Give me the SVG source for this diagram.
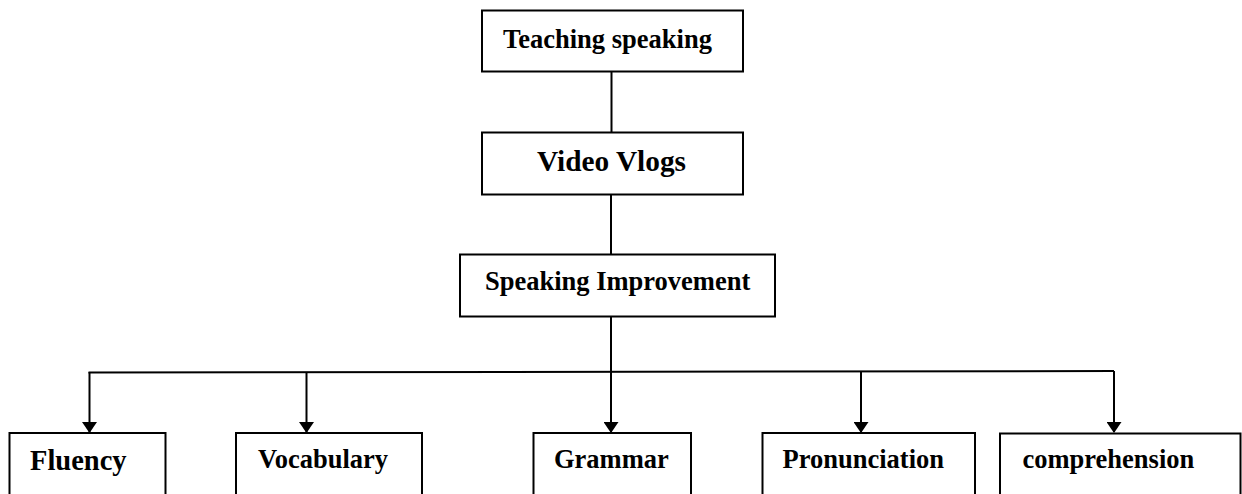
<svg xmlns="http://www.w3.org/2000/svg" width="1242" height="494" viewBox="0 0 1242 494">
<style>
.box{fill:#fff;stroke:#000;stroke-width:2}
.t{font-family:"Liberation Serif","Times New Roman",serif;font-weight:bold;font-size:26.5px;fill:#000}
.c{fill:none;stroke:#000;stroke-width:2}
</style>
<defs>
<marker id="arr" markerWidth="11" markerHeight="15" refX="10" refY="7.5" orient="auto" markerUnits="userSpaceOnUse" viewBox="0 0 11 15">
<path d="M0,0 L11,7.5 L0,15 Z" fill="#000"/>
</marker>
</defs>
<g id="connectors">
<line class="c" x1="611.5" y1="68" x2="611.5" y2="132"/>
<line class="c" x1="611" y1="190" x2="611" y2="254"/>
<line class="c" x1="611" y1="307" x2="611" y2="372"/>
<line class="c" x1="88.5" y1="372.5" x2="1114" y2="371"/>
<line class="c" x1="89.5" y1="372" x2="89.5" y2="432" marker-end="url(#arr)"/>
<line class="c" x1="306.5" y1="372" x2="306.5" y2="432" marker-end="url(#arr)"/>
<line class="c" x1="611" y1="372" x2="611" y2="432" marker-end="url(#arr)"/>
<line class="c" x1="861" y1="371" x2="861" y2="432" marker-end="url(#arr)"/>
<line class="c" x1="1114" y1="371" x2="1114" y2="432" marker-end="url(#arr)"/>
</g>
<g id="n-teaching">
<rect class="box" x="482" y="10.5" width="261" height="61"/>
<text class="t" x="503" y="48">Teaching speaking</text>
</g>
<g id="n-video">
<rect class="box" x="482" y="132.5" width="261" height="62"/>
<text class="t" x="537" y="171" style="font-size:29.3px">Video Vlogs</text>
</g>
<g id="n-speaking">
<rect class="box" x="460" y="254.5" width="315" height="62"/>
<text class="t" x="485" y="290">Speaking Improvement</text>
</g>
<g id="n-fluency">
<rect class="box" x="9.5" y="433" width="156" height="70"/>
<text class="t" x="30" y="470" style="font-size:28.5px">Fluency</text>
</g>
<g id="n-vocabulary">
<rect class="box" x="236" y="433" width="186" height="70"/>
<text class="t" x="258" y="468">Vocabulary</text>
</g>
<g id="n-grammar">
<rect class="box" x="533.5" y="433" width="157.5" height="70"/>
<text class="t" x="554" y="468">Grammar</text>
</g>
<g id="n-pronunciation">
<rect class="box" x="762.5" y="433" width="212.5" height="70"/>
<text class="t" x="782.5" y="468">Pronunciation</text>
</g>
<g id="n-comprehension">
<rect class="box" x="1000" y="433.5" width="240.5" height="70"/>
<text class="t" x="1022.5" y="468">comprehension</text>
</g>
</svg>
